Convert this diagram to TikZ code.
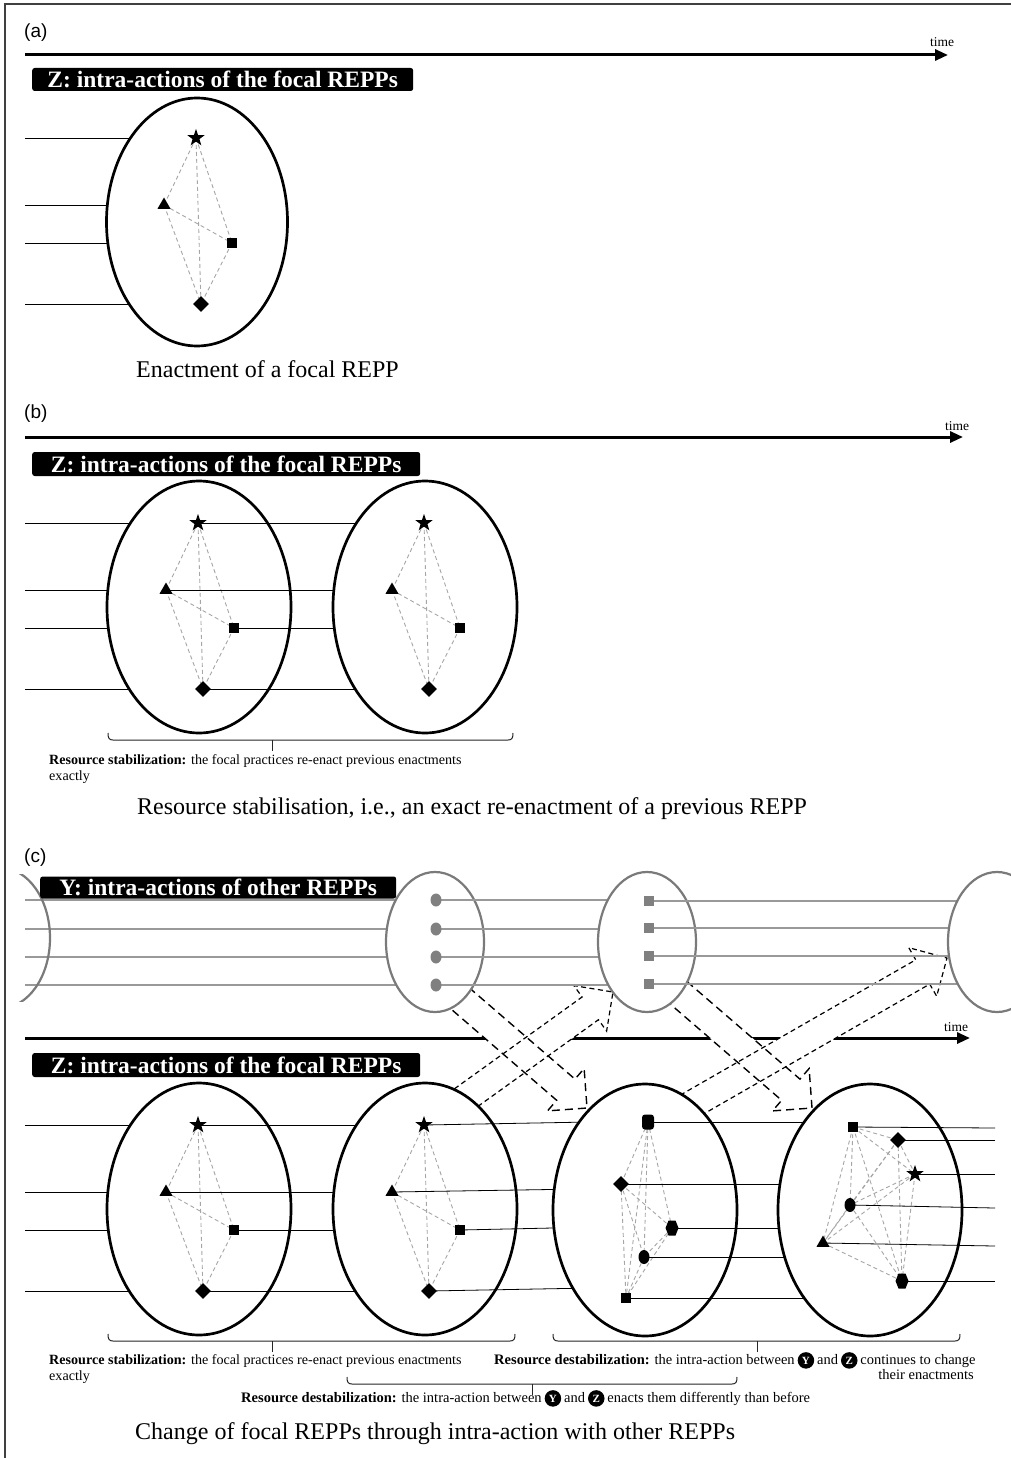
\documentclass[tikz,border=0pt]{standalone}
\usepackage{fontspec}
\setmainfont{Liberation Serif}
\newfontfamily\lsans{Liberation Sans}
\usetikzlibrary{calc,shapes.geometric,arrows.meta}

\tikzset{
  frame/.style={draw=black!75, line width=1.3pt},
  zell/.style={ellipse, draw=black, line width=2.7pt, fill=white, inner sep=0pt, minimum width=184pt, minimum height=252pt},
  yell/.style={ellipse, draw=black!52, line width=2.2pt, fill=white, inner sep=0pt, minimum width=98pt, minimum height=140pt},
  link/.style={draw=black!35, line width=0.9pt, dash pattern=on 4pt off 3pt},
  hline/.style={draw=black, line width=0.8pt},
  gline/.style={draw=black!40, line width=1.2pt},
  taxis/.style={draw=black, line width=3pt, -{Triangle[length=13pt,width=11pt]}},
  tlab/.style={font=\fontsize{13.5}{14}\selectfont, anchor=base, inner sep=0pt},
  plab/.style={font=\lsans\fontsize{19}{19}\selectfont, anchor=west, inner sep=0pt},
  boxlab/.style={fill=black, text=white, rounded corners=2.5pt, font=\fontsize{23.5}{24}\selectfont\bfseries, inner sep=0pt, anchor=west},
  mk/.style={fill=black, draw=none, inner sep=0pt},
  starmk/.style={mk, star, star points=5, star point ratio=2.5, minimum size=18pt},
  trimk/.style={mk, regular polygon, regular polygon sides=3, minimum size=15pt},
  sqmk/.style={mk, rectangle, minimum size=10pt},
  diamk/.style={mk, diamond, minimum size=16pt},
  dotmk/.style={mk, ellipse, minimum width=11pt, minimum height=14pt},
  rsqmk/.style={mk, rectangle, rounded corners=3pt, minimum width=12pt, minimum height=15pt},
  ydot/.style={fill=black!50, draw=none, inner sep=0pt, ellipse, minimum width=11pt, minimum height=13pt},
  ysq/.style={fill=black!50, draw=none, inner sep=0pt, rectangle, minimum size=10pt},
  downarr/.style={draw=black, line width=1.4pt, dash pattern=on 8pt off 5pt},
  uparr/.style={draw=black, line width=1.2pt, dash pattern=on 5pt off 3.5pt},
  brk/.style={draw=black!85, line width=1pt},
  small/.style={font=\fontsize{14.1}{15}\selectfont, inner sep=0pt, anchor=base west},
  dsmall/.style={font=\fontsize{14.5}{15}\selectfont, inner sep=0pt, anchor=base west},
  capt/.style={font=\fontsize{24}{26}\selectfont, inner sep=0pt, anchor=base west},
  badge/.style={circle, fill=black, text=white, font=\fontsize{11}{11}\selectfont\bfseries, inner sep=0pt, minimum size=16.5pt, anchor=base},
}

\newcommand\zcoords[3]{%
  \coordinate (#1-c) at (#2,#3);
  \coordinate (#1-s) at ($(#1-c)+(-1,-84)$);
  \coordinate (#1-t) at ($(#1-c)+(-33,-17)$);
  \coordinate (#1-q) at ($(#1-c)+(35,21)$);
  \coordinate (#1-d) at ($(#1-c)+(4,82)$);
}
\newcommand\zbody[2]{%
  \node[zell,#2] (#1) at (#1-c) {};
  \foreach \pa/\pb in {s/t,s/q,s/d,t/q,t/d,q/d} \draw[link] (#1-\pa) -- (#1-\pb);
}
\newcommand\zmarks[1]{%
  \node[starmk] (#1-S) at (#1-s) {};
  \node[trimk] (#1-T) at (#1-t) {};
  \node[sqmk] (#1-Q) at (#1-q) {};
  \node[diamk] (#1-D) at (#1-d) {};
}
\newcommand\leftlines[1]{%
  \foreach \pa in {s,t,q,d} \draw[hline] (#1-\pa -| L) -- (#1-\pa);
}
\newcommand\outlines[2]{%
  \foreach \pa in {s,t,q,d} \draw[hline] (#1-\pa) -- (#1-\pa -| #2-c);
}
\newcommand\hexmk[1]{\fill (#1) ++(-3.5,-7.5) -- ++(7,0) -- ++(3,7.5) -- ++(-3,7.5) -- ++(-7,0) -- ++(-3,-7.5) -- cycle;}
\newcommand\bacoords[3]{%
  \coordinate (#1-T) at (#2);
  \coordinate (#1-P) at (#3);
  \coordinate (#1-B) at ($(#1-P)!28pt!(#1-T)$);
}
\newcommand\bapath[1]{($(#1-T)!14pt!90:(#1-P)$) -- ($(#1-B)!14pt!-90:(#1-T)$) -- ($(#1-B)!28pt!-90:(#1-T)$) -- (#1-P) -- ($(#1-B)!28pt!90:(#1-T)$) -- ($(#1-B)!14pt!90:(#1-T)$) -- ($(#1-T)!14pt!-90:(#1-P)$) -- cycle}
\newcommand\bracket[4]{%
  \draw[brk] (#1,#3-7) .. controls (#1,#3-2) and (#1+1,#3) .. (#1+5,#3) -- (#2-5,#3) .. controls (#2-1,#3) and (#2,#3-2) .. (#2,#3-7);
  \draw[brk] (#4,#3) -- (#4,#3+11);
}

\begin{document}
\begin{tikzpicture}[x=1pt,y=-1pt]
\useasboundingbox (0,0) rectangle (1011,1458);
\fill[white] (0,0) rectangle (1011,1458);
\coordinate (L) at (25,0);
\coordinate (R) at (995,0);
\draw[frame] (5,1458) -- (5,4) -- (1011,4);

% ---------------- panel (a)
\node[plab] (pa) at (24,33) {(a)};
\coordinate (ta0) at (25,55); \coordinate (ta1) at (948,55);
\draw[taxis] (ta0) -- (ta1);
\node[tlab] (tat) at (942,47) {time};
\node[boxlab, minimum width=381pt, minimum height=23pt] (za) at (32,79.5) {Z: intra-actions of the focal REPPs};
\zcoords{a1}{197}{222}
\leftlines{a1}
\zbody{a1}{minimum width=181pt, minimum height=248pt}
\zmarks{a1}
\node[capt] (capa) at (136,377) {Enactment of a focal REPP};

% ---------------- panel (b)
\node[plab] (pb) at (24,414) {(b)};
\coordinate (tb0) at (25,437); \coordinate (tb1) at (963,437);
\draw[taxis] (tb0) -- (tb1);
\node[tlab] (tbt) at (957,430) {time};
\node[boxlab, minimum width=388pt, minimum height=24pt] (zb) at (32,464) {Z: intra-actions of the focal REPPs};
\zcoords{b1}{199}{607}
\zcoords{b2}{425}{607}
\leftlines{b1}
\zbody{b1}{}
\outlines{b1}{b2}
\zmarks{b1}
\zbody{b2}{}
\zmarks{b2}
\bracket{108}{513}{740}{272}
\node[small] (bt1) at (49,764) {\textbf{Resource stabilization:} the focal practices re-enact previous enactments};
\node[small] (bt2) at (49,780) {exactly};
\node[capt] (capb) at (137,814) {Resource stabilisation, i.e., an exact re-enactment of a previous REPP};

% ---------------- panel (c)
\node[plab] (pc) at (24,858) {(c)};
\coordinate (tc0) at (25,1038); \coordinate (tc1) at (970,1038);
\draw[taxis] (tc0) -- (tc1);
\node[tlab] (tct) at (956,1031) {time};

% block arrows
\bacoords{D1}{440,981}{587,1108}
\bacoords{D2}{658,975}{812,1108}
\bacoords{U1}{435,1120}{613,992}
\bacoords{U2}{665,1120}{947,958}
\fill[white] \bapath{D1};
\fill[white] \bapath{D2};
\fill[white] \bapath{U1};
\fill[white] \bapath{U2};
\draw[downarr] \bapath{D1};
\draw[downarr] \bapath{D2};
\draw[uparr] \bapath{U1};
\draw[uparr] \bapath{U2};

% Y row
\coordinate (y0-c) at (1,938);
\coordinate (y1-c) at (435,942);
\coordinate (y2-c) at (647,942);
\coordinate (y3-c) at (997,942);
\foreach \k/\yy in {1/900,2/929,3/957,4/985} \coordinate (y1-\k) at (436,\yy);
\foreach \k/\yy in {1/901,2/928,3/956,4/984} \coordinate (y2-\k) at (649,\yy);
\foreach \k in {1,2,3,4} \draw[gline] (y1-\k -| L) -- (y1-\k);
\begin{scope}
  \clip (5,874) rectangle (80,1001);
  \node[yell, fill=none] (y0) at (y0-c) {};
\end{scope}
\node[yell] (y1) at (y1-c) {};
\foreach \k in {1,2,3,4} \draw[gline] (y1-\k) -- (y1-\k -| y2-c);
\foreach \k in {1,2,3,4} \node[ydot] (y1-D\k) at (y1-\k) {};
\node[yell] (y2) at (y2-c) {};
\foreach \k in {1,2,3,4} \draw[gline] (y2-\k) -- (y2-\k -| y3-c);
\foreach \k in {1,2,3,4} \node[ysq] (y2-Q\k) at (y2-\k) {};
\node[yell] (y3) at (y3-c) {};
\node[boxlab, minimum width=356pt, minimum height=22pt] (ylab) at (40,887.5) {Y: intra-actions of other REPPs};

% Z row
\node[boxlab, minimum width=388pt, minimum height=24pt] (zc) at (32,1065) {Z: intra-actions of the focal REPPs};
\zcoords{c1}{199}{1209}
\zcoords{c2}{425}{1209}
\coordinate (c3-c) at (645,1210);
\coordinate (c3-a) at (648,1122);
\coordinate (c3-b) at (621,1184);
\coordinate (c3-cc) at (672,1228);
\coordinate (c3-d) at (644,1257);
\coordinate (c3-e) at (626,1298);
\coordinate (c4-c) at (870,1210);
\coordinate (c4-a) at (853,1127);
\coordinate (c4-b) at (898,1140);
\coordinate (c4-cc) at (915,1174);
\coordinate (c4-d) at (850,1205);
\coordinate (c4-e) at (823,1243);
\coordinate (c4-f) at (902,1281);

\leftlines{c1}
\zbody{c1}{}
\outlines{c1}{c2}
\zmarks{c1}
\zbody{c2}{}
\foreach \pa in {s,t,q,d} \draw[hline] (c2-\pa) -- ($(c2-\pa -| c3-c)+(0,-4)$);
\zmarks{c2}

\node[zell] (c3) at (c3-c) {};
\foreach \pa/\pb in {a/b,a/cc,a/d,a/e,b/cc,b/d,b/e,cc/d,cc/e,d/e} \draw[link] (c3-\pa) -- (c3-\pb);
\foreach \pa in {a,b,cc,d,e} \draw[hline] (c3-\pa) -- (c3-\pa -| c4-c);
\node[rsqmk] (c3-A) at (c3-a) {};
\node[diamk] (c3-B) at (c3-b) {};
\hexmk{c3-cc}
\node[dotmk] (c3-D) at (c3-d) {};
\node[sqmk] (c3-E) at (c3-e) {};

\node[zell] (c4) at (c4-c) {};
\foreach \pa/\pb in {a/b,a/cc,a/d,a/e,a/f,b/cc,b/d,b/e,b/f,cc/d,cc/e,cc/f,d/e,d/f,e/f} \draw[link] (c4-\pa) -- (c4-\pb);
\draw[hline] (c4-a) -- ($(c4-a -| R)+(0,1)$);
\draw[hline] (c4-b) -- (c4-b -| R);
\draw[hline] (c4-cc) -- (c4-cc -| R);
\draw[hline] (c4-d) -- ($(c4-d -| R)+(0,3)$);
\draw[hline] (c4-e) -- ($(c4-e -| R)+(0,3)$);
\draw[hline] (c4-f) -- (c4-f -| R);
\node[sqmk] (c4-A) at (c4-a) {};
\node[diamk] (c4-B) at (c4-b) {};
\node[starmk] (c4-C) at (c4-cc) {};
\node[dotmk] (c4-D) at (c4-d) {};
\node[trimk] (c4-E) at (c4-e) {};
\hexmk{c4-f}

% brackets and texts
\bracket{108}{515}{1341}{272}
\bracket{553}{960}{1341}{757}
\bracket{347}{737}{1384}{532}
\node[small] (ct1) at (49,1364) {\textbf{Resource stabilization:} the focal practices re-enact previous enactments};
\node[small] (ct2) at (49,1380) {exactly};

\node[dsmall] (d1a) at (494,1364) {\textbf{Resource destabilization:} the intra-action between};
\node[badge] (d1y) at ($(d1a.base east)+(11,0)$) {Y};
\node[dsmall] (d1b) at ($(d1y.base)+(11,0)$) {and};
\node[badge] (d1z) at ($(d1b.base east)+(11,0)$) {Z};
\node[dsmall] (d1c) at ($(d1z.base)+(11,0)$) {continues to change};
\node[dsmall, anchor=base east] (d1d) at (974,1379) {their enactments};

\node[dsmall] (d2a) at (241,1402) {\textbf{Resource destabilization:} the intra-action between};
\node[badge] (d2y) at ($(d2a.base east)+(11,0)$) {Y};
\node[dsmall] (d2b) at ($(d2y.base)+(11,0)$) {and};
\node[badge] (d2z) at ($(d2b.base east)+(11,0)$) {Z};
\node[dsmall] (d2c) at ($(d2z.base)+(11,0)$) {enacts them differently than before};

\node[capt] (capc) at (135,1439) {Change of focal REPPs through intra-action with other REPPs};
\end{tikzpicture}
\end{document}
